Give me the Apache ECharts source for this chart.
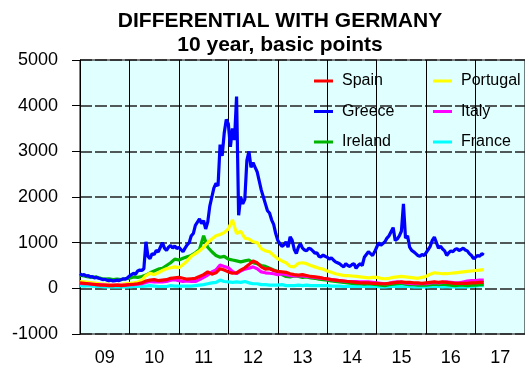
<!DOCTYPE html>
<html>
<head>
<meta charset="utf-8">
<script src="https://cdn.jsdelivr.net/npm/echarts@6/dist/echarts.min.js"></script>
<style>
  html, body { margin: 0; padding: 0; background: #ffffff; }
  #chart { width: 525px; height: 367px; }
</style>
</head>
<body>
<div id="chart"></div>
<script>
// Year labels shown under each yearly band
const yearLabels = ['09', '10', '11', '12', '13', '14', '15', '16', '17'];

// Time bases (decimal years): monthly for most series, half-monthly for Greece
const monthly = Array.from({ length: 99 }, (_, i) => 2009 + i / 12);
const halfMonthly = Array.from({ length: 197 }, (_, i) => 2009 + i / 24);

// 10-year spread over the German Bund, basis points
const spain = [
  120, 110, 100, 90, 80, 70, 70, 60, 60, 70, 60, 70,
  80, 90, 100, 120, 160, 180, 190, 170, 180, 190, 220, 230,
  240, 220, 200, 210, 220, 260, 300, 360, 310, 340, 430, 400,
  360, 330, 340, 400, 450, 520, 600, 560, 470, 420, 430, 390,
  370, 360, 350, 320, 300, 290, 300, 280, 260, 250, 240, 220,
  210, 190, 180, 170, 160, 150, 140, 130, 120, 120, 120, 110,
  110, 100, 100, 110, 120, 130, 140, 130, 130, 120, 120, 110,
  120, 130, 140, 130, 140, 130, 120, 110, 110, 110, 110, 120,
  120, 130, 130
];

const portugal = [
  150, 140, 130, 120, 110, 100, 90, 90, 80, 80, 90, 100,
  110, 120, 140, 180, 280, 330, 300, 340, 390, 430, 450, 470,
  450, 520, 600, 700, 760, 820, 900, 1000, 1080, 1150, 1180, 1220,
  1300, 1500, 1200, 1250, 1100, 1080, 1020, 1000, 870, 820, 800, 720,
  650, 600, 560, 480, 470, 550, 560, 540, 500, 470, 440, 420,
  380, 350, 320, 300, 280, 280, 270, 260, 250, 240, 230, 240,
  240, 220, 210, 220, 240, 250, 260, 250, 240, 230, 220, 240,
  260, 310, 340, 330, 320, 320, 330, 340, 350, 360, 370, 380,
  390, 400, 410
];

const greece = [
  320, 290, 300, 270, 280, 250, 260, 230, 240, 220, 210, 190,
  200, 180, 170, 180, 160, 170, 180, 170, 190, 210, 200, 230,
  270, 300, 330, 310, 380, 400, 390, 430, 1020, 700, 650, 760,
  740, 830, 800, 900, 1000, 880, 830, 900, 940, 880, 930, 870,
  900, 850, 800, 880, 950, 1000, 1150, 1200, 1380, 1450, 1520, 1420,
  1480, 1300, 1450, 1800, 2000, 2200, 2300, 2240, 3150, 2900, 3400, 3700,
  3600, 3100, 3500, 3250, 4200, 1600, 2000, 1850, 1950, 2800, 3000, 2650,
  2750, 2650, 2550, 2350, 2150, 2000, 1850, 1700, 1650, 1500, 1400, 1200,
  1050, 980, 920, 950, 1020, 900, 1130, 1050, 850, 760, 900, 980,
  880, 840, 820, 880, 860, 820, 770, 780, 700, 690, 730, 700,
  680, 640, 670, 620, 580, 560, 540, 500, 470, 540, 500, 480,
  520, 540, 440, 500, 540, 500, 680, 740, 800, 760, 720, 800,
  900, 1000, 940, 980, 1020, 1100, 1150, 1240, 1330, 1050, 1080, 1150,
  1250, 1850, 1100, 1150, 900, 830, 800, 760, 720, 700, 740, 720,
  780, 850, 920, 1050, 1120, 1000, 880, 920, 860, 820, 720, 780,
  820, 800, 850, 870, 830, 850, 880, 840, 820, 760, 720, 650,
  680, 720, 700, 760, 730
];

const italy = [
  110, 100, 100, 90, 80, 80, 70, 70, 70, 70, 70, 70,
  80, 80, 90, 100, 130, 150, 140, 140, 140, 150, 180, 190,
  170, 150, 160, 150, 150, 190, 240, 290, 360, 400, 510, 480,
  450, 370, 320, 380, 420, 440, 470, 430, 360, 340, 330, 320,
  300, 320, 300, 280, 270, 280, 270, 260, 250, 240, 230, 220,
  200, 190, 180, 170, 160, 150, 150, 150, 140, 140, 140, 130,
  120, 110, 100, 110, 130, 140, 130, 120, 110, 100, 100, 100,
  100, 120, 130, 120, 130, 140, 130, 120, 120, 140, 160, 170,
  170, 180, 180
];

const ireland = [
  290, 270, 250, 240, 250, 220, 200, 210, 190, 200, 190, 210,
  220, 250, 240, 260, 290, 340, 380, 420, 440, 500, 560, 640,
  620, 660, 690, 720, 780, 850, 1150, 900, 800, 720, 680, 700,
  640, 620, 600, 580, 600, 620, 560, 540, 500, 480, 440, 400,
  360, 300, 260, 250, 270, 260, 240, 250, 230, 220, 200, 190,
  180, 160, 150, 140, 130, 120, 110, 100, 100, 90, 100, 90,
  80, 70, 60, 80, 90, 100, 110, 90, 80, 80, 70, 70,
  70, 80, 90, 80, 90, 80, 70, 60, 70, 70, 60, 70,
  70, 80, 80
];

const france = [
  60, 50, 60, 50, 40, 40, 30, 30, 30, 30, 30, 30,
  30, 40, 40, 40, 50, 60, 50, 40, 40, 40, 60, 50,
  50, 50, 50, 50, 60, 70, 80, 100, 120, 130, 180, 150,
  140, 130, 140, 130, 150, 120, 100, 100, 80, 80, 70, 70,
  70, 80, 60, 60, 60, 70, 60, 70, 60, 60, 60, 60,
  60, 50, 50, 50, 40, 40, 40, 40, 40, 40, 40, 40,
  40, 30, 30, 40, 40, 40, 40, 40, 40, 30, 30, 30,
  30, 40, 40, 40, 30, 40, 30, 30, 30, 30, 30, 40,
  50, 60, 60
];

const yTicks = { min: -1000, max: 5000, step: 1000 };

const pairs = (t, v) => v.map((y, i) => [t[i], y]);

function lineSeries(name, color, t, values, z) {
  return {
    name: name,
    type: 'line',
    xAxisIndex: 1,
    yAxisIndex: 0,
    data: pairs(t, values),
    showSymbol: false,
    symbol: 'none',
    z: z,
    lineStyle: { color: color, width: 3.2 },
    itemStyle: { color: color }
  };
}

const font = 'Arial, "Liberation Sans", sans-serif';
const chart = echarts.init(document.getElementById('chart'), null, { renderer: 'canvas' });

chart.setOption({
  animation: false,
  backgroundColor: '#ffffff',
  textStyle: { fontFamily: font },
  title: {
    text: 'DIFFERENTIAL WITH GERMANY\n10 year, basic points',
    left: 280,
    top: 9,
    textAlign: 'center',
    padding: 0,
    textStyle: {
      fontFamily: font,
      fontSize: 21,
      fontWeight: 'bold',
      color: '#000000',
      lineHeight: 24
    }
  },
  legend: [
    {
      data: ['Spain', 'Greece', 'Ireland'],
      orient: 'vertical',
      left: 314,
      top: 72,
      padding: 0,
      itemGap: 12.5,
      itemWidth: 19,
      itemHeight: 3,
      icon: 'rect',
      textStyle: { fontFamily: font, fontSize: 16, color: '#000000', lineHeight: 18, padding: [0, 0, 0, 4] }
    },
    {
      data: ['Portugal', 'Italy', 'France'],
      orient: 'vertical',
      left: 433,
      top: 72,
      padding: 0,
      itemGap: 12.5,
      itemWidth: 19,
      itemHeight: 3,
      icon: 'rect',
      textStyle: { fontFamily: font, fontSize: 16, color: '#000000', lineHeight: 18, padding: [0, 0, 0, 4] }
    }
  ],
  grid: {
    left: 80,
    top: 60,
    right: -4,
    bottom: 31,
    show: true,
    backgroundColor: '#E0FFFF',
    borderColor: '#000000',
    borderWidth: 1,
    containLabel: false
  },
  xAxis: [
    {
      type: 'category',
      data: yearLabels,
      boundaryGap: true,
      axisLine: { show: false },
      axisTick: { show: false },
      axisLabel: { fontFamily: font, fontSize: 18, color: '#000000', margin: 15 },
      splitLine: { show: true, lineStyle: { color: '#000000', width: 1, type: 'solid' } }
    },
    {
      type: 'value',
      min: 2009,
      max: 2018,
      show: false,
      splitLine: { show: false }
    }
  ],
  yAxis: {
    type: 'value',
    min: yTicks.min,
    max: yTicks.max,
    interval: yTicks.step,
    axisLine: { show: true, lineStyle: { color: '#000000', width: 1 } },
    axisTick: { show: true, inside: false, length: 8, lineStyle: { color: '#000000' } },
    axisLabel: {
      fontFamily: font,
      fontSize: 18,
      color: '#000000',
      margin: 22,
      formatter: (v) => String(v)
    },
    splitLine: { show: true, lineStyle: { color: '#222222', width: 1.5, type: [12, 3] } }
  },
  series: [
    lineSeries('France', '#00FFFF', monthly, france, 2),
    lineSeries('Ireland', '#00B400', monthly, ireland, 3),
    lineSeries('Portugal', '#FFFF00', monthly, portugal, 4),
    lineSeries('Italy', '#FF00FF', monthly, italy, 5),
    lineSeries('Spain', '#FF0000', monthly, spain, 6),
    lineSeries('Greece', '#0000FF', halfMonthly, greece, 7)
  ]
});
</script>
</body>
</html>
